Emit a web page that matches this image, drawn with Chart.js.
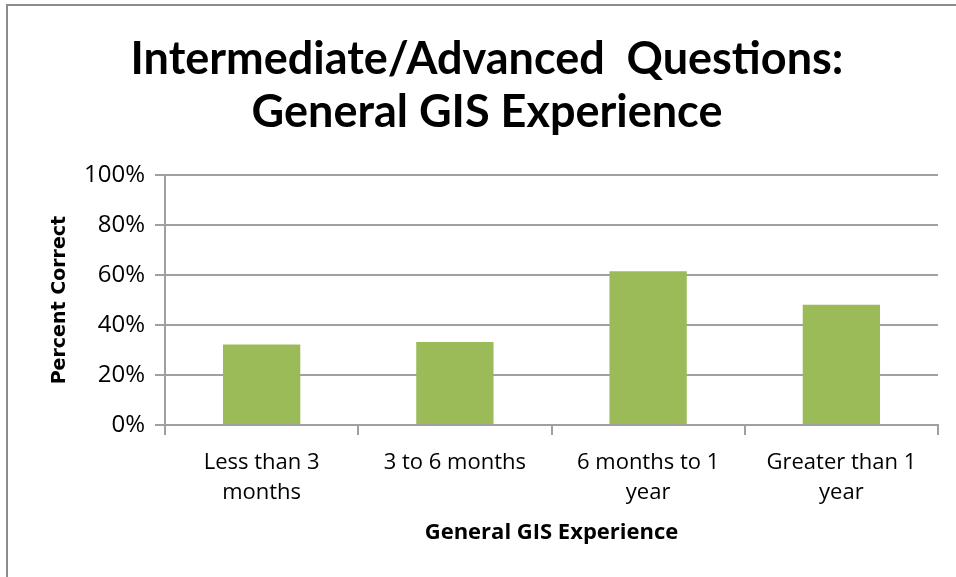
<!DOCTYPE html>
<html>
<head>
<meta charset="utf-8">
<script src="https://cdn.jsdelivr.net/npm/chart.js@4"></script>
<style>
    html, body { margin: 0; padding: 0; background: #fff; overflow: hidden; }
    #frame {
        position: absolute; left: 6px; top: 4px;
        width: 1000px; height: 1000px;
        border: 2px solid #8c8c8c;
    }
    #wrap { position: absolute; left: 0; top: 0; width: 956px; height: 577px; }
</style>
</head>
<body>
<div id="frame"></div>
<div id="wrap"><canvas id="experience"></canvas></div>
<script>
const categories = [["Less than 3", "months"], "3 to 6 months", ["6 months to 1", "year"], ["Greater than 1", "year"]];
const percentCorrect = [32.2, 33.2, 61.5, 48.1];
const yTicks = [0, 20, 40, 60, 80, 100];
const titleLines = ["Intermediate/Advanced  Questions:", "General GIS Experience"];

const gridColor = "#a0a0a0";
let experienceChart;

// the title in the original sits a bit right of the canvas centre
const shiftTitle = {
    id: 'shiftTitle',
    afterLayout: function (chart) {
        if (chart.titleBlock) {
            chart.titleBlock.left = 36;
        }
    }
};

function loadExperienceChart(){
    var ctx = document.getElementById('experience').getContext('2d');

    if (experienceChart) {
        experienceChart.destroy();
    }

    experienceChart = new Chart(ctx, {
        type: 'bar',
        data: {
            labels: categories,
            datasets: [{
                label: 'Percent Correct',
                data: percentCorrect,
                backgroundColor: "#9bbb59",
                categoryPercentage: 1,
                barPercentage: 0.4
            }]
        },
        plugins: [shiftTitle],
        options: {
            responsive: true,
            maintainAspectRatio: false,
            animation: false,
            layout: { padding: { left: 0, right: 18, top: 0, bottom: 0 } },
            plugins: {
                legend: { display: false },
                tooltip: { enabled: false },
                title: {
                    display: true,
                    text: titleLines,
                    color: "#000",
                    font: { family: "Lato", size: 45, weight: "bold", lineHeight: 1.18 },
                    padding: { top: 33, bottom: 36 }
                }
            },
            scales: {
                x: {
                    grid: {
                        display: true,
                        drawOnChartArea: false,
                        drawTicks: true,
                        tickLength: 10,
                        color: gridColor,
                        lineWidth: 2
                    },
                    border: { color: gridColor, width: 2 },
                    ticks: {
                        color: "#000",
                        padding: 13,
                        maxRotation: 0,
                        font: { family: "Open Sans", size: 22, lineHeight: 1.36 }
                    },
                    title: {
                        display: true,
                        text: "General GIS Experience",
                        color: "#000",
                        font: { family: "Open Sans", size: 22, weight: "bold", lineHeight: 1.2 },
                        padding: { top: 0, bottom: 31 }
                    },
                    afterFit: function (scale) { scale.height = 152; }
                },
                y: {
                    min: 0,
                    max: 100,
                    afterBuildTicks: function (scale) {
                        scale.ticks = yTicks.map(function (v) { return { value: v }; });
                    },
                    grid: {
                        color: gridColor,
                        lineWidth: 2,
                        drawTicks: true,
                        tickLength: 10
                    },
                    border: { color: gridColor, width: 2 },
                    ticks: {
                        color: "#000",
                        padding: 10,
                        font: { family: "Open Sans", size: 24 },
                        callback: function (v) { return v + "%"; }
                    },
                    title: {
                        display: true,
                        text: "Percent Correct",
                        color: "#000",
                        font: { family: "DejaVu Sans", size: 19, weight: "bold", lineHeight: 1.2 },
                        padding: { top: 49, bottom: 0 }
                    },
                    afterFit: function (scale) { scale.width = 165; }
                }
            }
        }
    });
}

loadExperienceChart();
</script>
</body>
</html>
